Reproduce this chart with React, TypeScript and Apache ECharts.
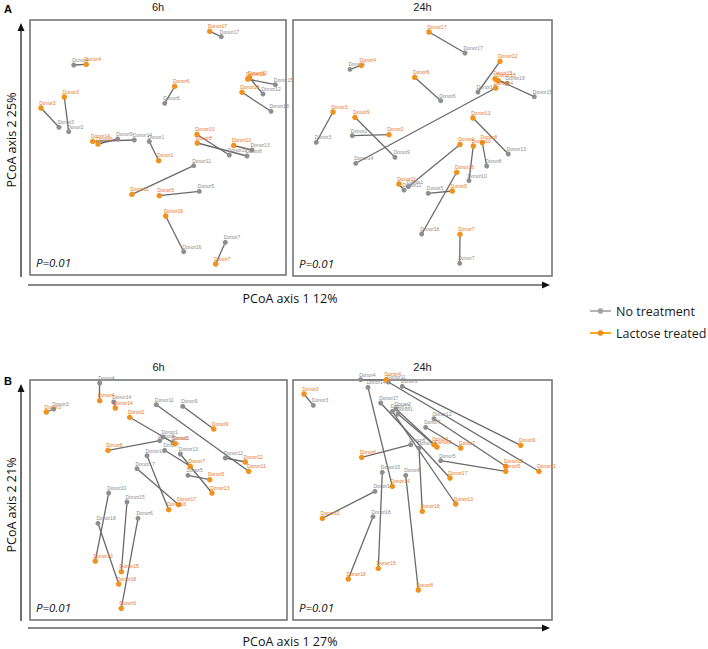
import React, { useEffect, useRef } from "react";
import * as echarts from "echarts";

// ---- Data (page-pixel PCoA positions per panel) ----
const panelTitles = ["6h", "24h", "6h", "24h"];
const pValues = ["P=0.01", "P=0.01", "P=0.01", "P=0.01"];
const xAxisTitles = ["PCoA axis 1 12%", "PCoA axis 1 27%"];
const yAxisTitles = ["PCoA axis 2 25%", "PCoA axis 2 21%"];
const legendNames = ["No treatment", "Lactose treated"];

const a6Donors = ["Donor17","Donor4","Donor6","Donor2","Donor3","Donor1","Donor11","Donor5","Donor16","Donor7","Donor10","Donor8","Donor13","Donor14","Donor9","Donor15","Donor12","Donor18"];
const a6None = [[221.3,36.7],[73.7,65],[164.7,103.3],[68.7,131.7],[59,127.3],[149.3,141.5],[193.7,165.7],[199.3,191.3],[183.7,251.7],[225.3,242.3],[229.3,155],[247,156],[252,150],[134.3,140],[117.7,139],[275.3,84.7],[263,94],[271,111.3]];
const a6Lact = [[209.7,31.3],[86.3,64.3],[174.7,86.3],[64.3,97],[41,108],[158.7,160.7],[132,194.3],[159.3,195.7],[165.7,216],[215.7,264],[197,134.5],[197.3,143],[233.7,145.5],[92.7,141.3],[98,144],[247.7,79],[249.7,78],[242,92.3]];

const a24Donors = ["Donor17","Donor4","Donor6","Donor12","Donor3","Donor9","Donor2","Donor14","Donor13","Donor1","Donor10","Donor8","Donor11","Donor5","Donor16","Donor7","Donor18","Donor15"];
const a24None = [[465,53],[350,69.3],[440.7,100.7],[478,92],[316.3,142.3],[395,157.3],[352.3,135.7],[355.7,163.3],[508.3,154],[408.3,186.7],[469,180.7],[486.7,166],[404,190],[428.3,193.3],[421.7,234],[459.7,263.3],[507,83.3],[534.3,96.7]];
const a24Lact = [[429,32],[361.3,65.3],[414.7,77.3],[500,61.3],[333,112],[355,117.3],[389,134.7],[495.7,88],[473,118],[460,144.5],[473.3,146],[482.3,142.7],[399,184],[452.3,191],[456.7,172.3],[460,234.3],[498.3,80.7],[495,78.7]];

const b6Donors = ["Donor4","Donor14","Donor3","Donor9","Donor11","Donor2","Donor1","Donor8","Donor7","Donor13","Donor5","Donor12","Donor16","Donor17","Donor10","Donor15","Donor18","Donor6"];
const b6None = [[99.7,383],[113.7,402],[53.7,409],[182.7,406.3],[156.3,404.7],[173,442.5],[163,437],[159.7,440.7],[164.7,450.3],[180.3,454],[188,475.3],[225.3,458],[147,455.7],[137,468.7],[108.7,493],[127,502],[98,523.3],[138,518.3]];
const b6Lact = [[99.7,400.7],[115.3,408],[46.3,412],[213.7,429],[248.7,471.3],[129.7,417.3],[175,443.5],[108,450.3],[190.3,466.3],[212,493],[209.7,479.7],[245.3,462],[168.7,509.7],[178.7,504.7],[95.3,561],[121.3,571.7],[118.7,584],[121.3,608.3]];

const b24Donors = ["Donor3","Donor4","Donor9","Donor11","Donor14","Donor16","Donor8","Donor15","Donor18","Donor10","Donor6","Donor17","Donor13","Donor7","Donor12","Donor5","Donor1","Donor2"];
const b24None = [[313.3,405.3],[360.7,379.7],[402.3,386.3],[388.3,382],[368,387.3],[419,448],[405.7,475.3],[382.3,472.3],[373,516.7],[375,491.3],[410.7,444.7],[380.7,403],[392.3,411.3],[425.7,427.3],[434,418.7],[440.7,460.7],[398,414],[396,409]];
const b24Lact = [[304,394],[386.3,379.7],[520.7,445.3],[539,471.3],[392.3,486.3],[422.3,511.3],[418.3,590],[378.3,568.3],[348.3,579],[322.3,518.3],[361.7,457.3],[450,478],[455.7,504],[460.7,448],[505.7,466.3],[505.7,471.3],[434,444.7],[437,447]];

// ---- Layout / style ----
const panels = [
  { x0: 30, x1: 286, y0: 20, y1: 275, donors: a6Donors, none: a6None, lact: a6Lact },
  { x0: 293, x1: 552, y0: 20, y1: 276, donors: a24Donors, none: a24None, lact: a24Lact },
  { x0: 30, x1: 287, y0: 380, y1: 620, donors: b6Donors, none: b6None, lact: b6Lact },
  { x0: 293, x1: 552, y0: 380, y1: 620, donors: b24Donors, none: b24None, lact: b24Lact },
];

const GREY = "#8e8e8e";
const GREY_LABEL = "#8a8a8a";
const ORANGE = "#f0921c";
const ORANGE_LABEL = "#e8751f";
const LINE = "#6a6a6a";
const SANS = "'Liberation Sans', Arial, sans-serif";
const OPEN = "'Open Sans', sans-serif";

function txt(text: string, x: number, y: number, font: string, fill: string, align = "center", rotation = 0) {
  return {
    type: "text",
    x,
    y,
    rotation,
    silent: true,
    style: {
      text,
      font,
      fill,
      textAlign: align,
      align,
      textVerticalAlign: "middle",
      verticalAlign: "middle",
    },
  };
}

function arrowH(x0: number, x1: number, y: number) {
  return [
    { type: "line", shape: { x1: x0, y1: y, x2: x1 - 6, y2: y }, style: { stroke: "#111", lineWidth: 1.2 } },
    { type: "polygon", shape: { points: [[x1, y], [x1 - 8, y - 3.5], [x1 - 8, y + 3.5]] }, style: { fill: "#111" } },
  ];
}
function arrowV(x: number, yTip: number, y1: number) {
  return [
    { type: "line", shape: { x1: x, y1: y1, x2: x, y2: yTip + 6 }, style: { stroke: "#111", lineWidth: 1.2 } },
    { type: "polygon", shape: { points: [[x, yTip], [x - 3.5, yTip + 8], [x + 3.5, yTip + 8]] }, style: { fill: "#111" } },
  ];
}

function buildOption() {
  const grid: any[] = [];
  const xAxis: any[] = [];
  const yAxis: any[] = [];
  const series: any[] = [];
  const labelBase = {
    show: true,
    formatter: "{b}",
    position: [1, 0],
    align: "left",
    verticalAlign: "bottom",
    fontSize: 5,
    fontFamily: SANS,
  };
  panels.forEach((p, i) => {
    grid.push({
      left: p.x0,
      top: p.y0,
      width: p.x1 - p.x0,
      height: p.y1 - p.y0,
      show: true,
      borderColor: "#6e6e6e",
      borderWidth: 1.5,
      backgroundColor: "transparent",
    });
    xAxis.push({ type: "value", gridIndex: i, min: p.x0, max: p.x1, show: false });
    yAxis.push({ type: "value", gridIndex: i, min: p.y0, max: p.y1, inverse: true, show: false });
    series.push({
      type: "lines",
      coordinateSystem: "cartesian2d",
      xAxisIndex: i,
      yAxisIndex: i,
      silent: true,
      z: 1,
      lineStyle: { color: LINE, width: 1.3, opacity: 1, curveness: 0 },
      data: p.donors.map((d, k) => ({ name: d, coords: [p.none[k], p.lact[k]] })),
    });
    series.push({
      type: "scatter",
      name: legendNames[0],
      xAxisIndex: i,
      yAxisIndex: i,
      clip: false,
      z: 3,
      symbolSize: 5,
      itemStyle: { color: GREY, opacity: 1 },
      label: { ...labelBase, color: GREY_LABEL },
      data: p.donors.map((d, k) => ({ name: d, value: p.none[k] })),
    });
    series.push({
      type: "scatter",
      name: legendNames[1],
      xAxisIndex: i,
      yAxisIndex: i,
      clip: false,
      z: 4,
      symbolSize: 5.5,
      itemStyle: { color: ORANGE, opacity: 1 },
      label: { ...labelBase, color: ORANGE_LABEL },
      data: p.donors.map((d, k) => ({ name: d, value: p.lact[k] })),
    });
  });

  const g: any[] = [];
  // panel titles and p-values
  panels.forEach((p, i) => {
    g.push(txt(panelTitles[i], (p.x0 + p.x1) / 2, p.y0 - 13, `11px ${SANS}`, "#222"));
    g.push(txt(pValues[i], p.x0 + 6, p.y1 - 13, `italic 11.5px ${OPEN}`, "#111", "left"));
  });
  // section letters
  g.push(txt("A", 8, 9, `bold 11px ${SANS}`, "#000"));
  g.push(txt("B", 8, 381, `bold 11px ${SANS}`, "#000"));
  // axis arrows
  g.push(...arrowH(28, 550, 285));
  g.push(...arrowV(21, 23, 277));
  g.push(...arrowH(28, 550, 628));
  g.push(...arrowV(21, 384, 621));
  g.push(txt(xAxisTitles[0], 290, 298, `12.5px ${OPEN}`, "#111"));
  g.push(txt(xAxisTitles[1], 290, 641, `12.5px ${OPEN}`, "#111"));
  g.push(txt(yAxisTitles[0], 11, 140, `12.5px ${OPEN}`, "#111", "center", Math.PI / 2));
  g.push(txt(yAxisTitles[1], 11, 505, `12.5px ${OPEN}`, "#111", "center", Math.PI / 2));
  // legend
  const legendColors = [["#b3b3b3", "#a3a3a3"], ["#f7a823", "#ee8d14"]];
  legendNames.forEach((n, i) => {
    const y = 311 + i * 22;
    g.push({ type: "line", shape: { x1: 590, y1: y, x2: 611, y2: y }, style: { stroke: legendColors[i][0], lineWidth: 2 } });
    g.push({ type: "circle", shape: { cx: 600.5, cy: y, r: 2.8 }, style: { fill: legendColors[i][1] } });
    g.push(txt(n, 616, y, `12.5px ${OPEN}`, "#1a1a1a", "left"));
  });

  return {
    animation: false,
    backgroundColor: "#ffffff",
    grid,
    xAxis,
    yAxis,
    series,
    graphic: { elements: g },
  };
}

export default function App() {
  const ref = useRef<HTMLDivElement>(null);
  useEffect(() => {
    if (!ref.current) return;
    const chart = echarts.init(ref.current, undefined, { renderer: "svg" });
    chart.setOption(buildOption() as any);
    return () => chart.dispose();
  }, []);
  return (
    <div
      ref={ref}
      style={{ position: "absolute", left: 0, top: 0, width: 708, height: 649, background: "#fff" }}
    />
  );
}
